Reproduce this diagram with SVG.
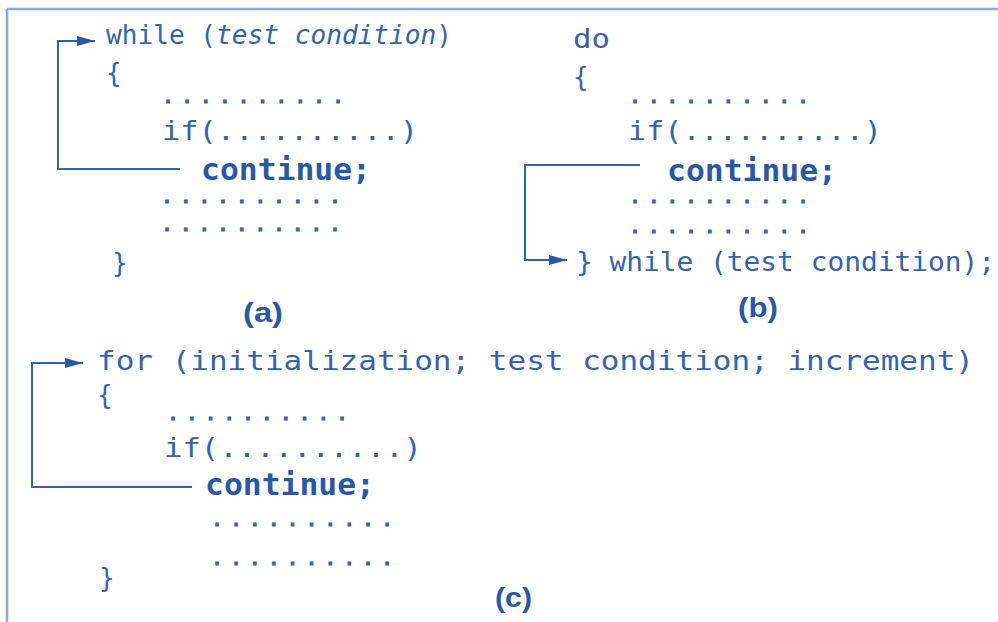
<svg xmlns="http://www.w3.org/2000/svg" width="998" height="622" viewBox="0 0 998 622">
<style>
.code{font-family:"DejaVu Sans Mono","Liberation Mono",monospace;font-size:26px;fill:#3563ad}
.kw{font-weight:bold;font-size:30px;fill:#2a58a6}
.it{font-style:italic}
.dots{font-family:"DejaVu Sans Mono","Liberation Mono",monospace;font-size:15px;fill:#3563ad;stroke:#3563ad;stroke-width:1.2;font-weight:bold}
.cap{font-family:"Liberation Sans","Arial",sans-serif;font-weight:bold;font-size:28px;fill:#2a58a6}
.conn{fill:none;stroke:#3563ad;stroke-width:2}
.frame{fill:none;stroke:#8aaad8;stroke-width:2.5}
</style>
<defs>
<marker id="ah" markerUnits="userSpaceOnUse" markerWidth="20" markerHeight="12" refX="18" refY="5" orient="auto">
<path d="M0,0 L18,5 L0,10 z" fill="#2a58a6"/>
</marker>
</defs>
<rect width="998" height="622" fill="#ffffff"/>
<g id="frame">
<line class="frame" x1="7" y1="9" x2="998" y2="9"/>
<line class="frame" x1="7" y1="9" x2="7" y2="622"/>
</g>
<g id="panel-a">
<text class="code" x="106" y="44" textLength="346" lengthAdjust="spacingAndGlyphs">while (<tspan class="it">test condition</tspan>)</text>
<text class="code" x="106" y="82">{</text>
<text class="dots" x="163.5" y="103" textLength="179" lengthAdjust="spacing">..........</text>
<text class="code" x="162" y="140" textLength="256" lengthAdjust="spacingAndGlyphs">if(..........)</text>
<text class="code kw" x="201" y="180" textLength="170" lengthAdjust="spacingAndGlyphs">continue;</text>
<text class="dots" x="162.5" y="203" textLength="177" lengthAdjust="spacing">..........</text>
<text class="dots" x="162.5" y="231" textLength="177" lengthAdjust="spacing">..........</text>
<text class="code" x="112" y="272">}</text>
<text class="cap" x="243" y="322" textLength="40" lengthAdjust="spacingAndGlyphs">(a)</text>
</g>
<g id="panel-b">
<text class="code" x="573" y="48" textLength="37" lengthAdjust="spacingAndGlyphs">do</text>
<text class="code" x="573" y="86">{</text>
<text class="dots" x="630.5" y="103" textLength="177" lengthAdjust="spacing">..........</text>
<text class="code" x="628" y="140" textLength="254" lengthAdjust="spacingAndGlyphs">if(..........)</text>
<text class="code kw" x="667" y="181" textLength="170" lengthAdjust="spacingAndGlyphs">continue;</text>
<text class="dots" x="630.5" y="203" textLength="177" lengthAdjust="spacing">..........</text>
<text class="dots" x="630.5" y="233" textLength="177" lengthAdjust="spacing">..........</text>
<text class="code" x="576" y="271" textLength="419" lengthAdjust="spacingAndGlyphs">} while (test condition);</text>
<text class="cap" x="738" y="317" textLength="40" lengthAdjust="spacingAndGlyphs">(b)</text>
</g>
<g id="panel-c">
<text class="code" x="97" y="370" textLength="877" lengthAdjust="spacingAndGlyphs">for (initialization; test condition; increment)</text>
<text class="code" x="97" y="404">{</text>
<text class="dots" x="168.5" y="420" textLength="178" lengthAdjust="spacing">..........</text>
<text class="code" x="164" y="457" textLength="258" lengthAdjust="spacingAndGlyphs">if(..........)</text>
<text class="code kw" x="205" y="495" textLength="170" lengthAdjust="spacingAndGlyphs">continue;</text>
<text class="dots" x="212.5" y="526" textLength="179" lengthAdjust="spacing">..........</text>
<text class="dots" x="212.5" y="565" textLength="179" lengthAdjust="spacing">..........</text>
<text class="code" x="99" y="587">}</text>
<text class="cap" x="495" y="607" textLength="37" lengthAdjust="spacingAndGlyphs">(c)</text>
</g>
<g id="connectors">
<path class="conn" d="M180,169 H58 V41 H95" marker-end="url(#ah)"/>
<path class="conn" d="M640,165 H525 V260 H567" marker-end="url(#ah)"/>
<path class="conn" d="M192,487 H32 V363 H83" marker-end="url(#ah)"/>
</g>
</svg>
